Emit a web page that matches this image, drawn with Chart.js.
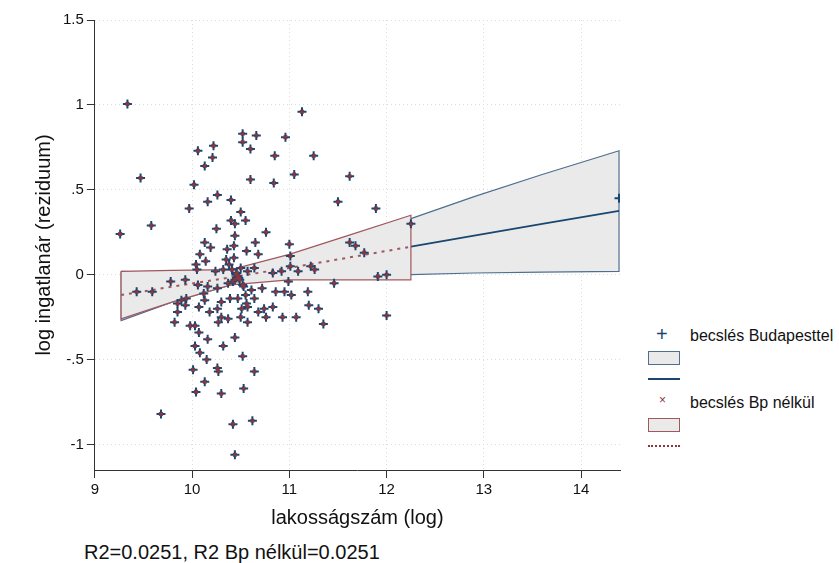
<!DOCTYPE html>
<html><head><meta charset="utf-8">
<script src="https://cdn.jsdelivr.net/npm/chart.js@4"></script>
<style>
body{margin:0;background:#fff;font-family:"Liberation Sans",Arial,sans-serif;}
#wrap{position:absolute;left:0;top:0;width:640px;height:540px;}
.lg{position:absolute;font-size:16px;color:#111;}
.note{position:absolute;left:84px;top:541px;font-size:20px;color:#111;}
</style></head><body>
<div id="wrap"><canvas id="c" width="640" height="540"></canvas></div>
<div class="lg" style="left:656px;top:323px;color:#1a476f;font-size:20px">+</div>
<div class="lg" style="left:690px;top:327px">becslés Budapesttel</div>
<div class="lg" style="left:648px;top:351px;width:30px;height:12px;background:#eaeaea;border:1.5px solid #4e6f90"></div>
<div class="lg" style="left:648px;top:378px;width:32px;height:2px;background:#1a476f"></div>
<div class="lg" style="left:659px;top:393px;color:#90353b;font-size:12px">×</div>
<div class="lg" style="left:690px;top:394px">becslés Bp nélkül</div>
<div class="lg" style="left:648px;top:418px;width:30px;height:12px;background:#eaeaea;border:1.5px solid #a0585d"></div>
<div class="lg" style="left:648px;top:445px;width:32px;height:0;border-top:2px dotted #90353b"></div>
<div class="note">R2=0.0251, R2 Bp nélkül=0.0251</div>
<script>
const xs = [9.335,11.13,10.52,10.52,10.66,10.96,10.22,10.06,10.60,10.21,10.85,11.25,10.13,9.47,11.05,11.62,10.60,10.84,10.02,10.26,10.16,10.40,11.50,9.97,11.89,10.50,10.40,10.44,10.55,9.58,9.26,10.25,10.44,10.76,12.25,10.13,10.19,10.65,11.00,10.36,10.43,10.56,10.68,10.08,11.62,11.68,11.77,11.01,10.35,10.43,10.14,10.05,10.04,10.24,10.32,10.47,10.57,10.64,10.83,10.92,11.09,11.01,11.22,11.26,11.91,12.00,9.78,9.93,9.43,9.59,10.06,10.16,10.26,10.37,10.44,10.52,10.61,10.72,10.86,10.95,10.99,11.46,11.02,11.19,10.12,9.89,9.85,9.94,10.13,10.30,10.39,10.47,10.56,10.64,9.93,10.07,10.18,10.26,10.51,10.57,10.68,10.74,10.83,11.20,11.30,9.85,10.30,10.37,10.50,10.57,10.76,10.93,11.07,11.35,12.00,9.82,10.27,9.98,10.03,10.07,10.16,10.44,10.03,10.32,10.08,10.15,10.52,10.01,10.26,10.27,10.64,10.13,10.04,10.30,10.53,9.68,10.42,10.62,10.44,10.45,10.48,10.50,10.42,10.46,10.53,10.38,10.55,10.49,10.41];
const ys = [1.006,0.96,0.83,0.78,0.82,0.81,0.76,0.73,0.74,0.69,0.70,0.70,0.64,0.57,0.59,0.58,0.56,0.54,0.53,0.47,0.43,0.44,0.43,0.39,0.39,0.37,0.32,0.30,0.32,0.29,0.24,0.27,0.23,0.25,0.30,0.19,0.16,0.19,0.18,0.15,0.17,0.14,0.12,0.12,0.19,0.17,0.13,0.11,0.09,0.10,0.08,0.03,0.06,0.02,0.03,-0.01,0.02,0.04,0.01,0.02,0.02,0.05,0.05,0.03,-0.01,0.00,-0.04,-0.03,-0.10,-0.10,-0.06,-0.07,-0.08,-0.05,-0.03,-0.06,-0.09,-0.08,-0.10,-0.10,-0.04,-0.05,-0.12,-0.10,-0.11,-0.15,-0.17,-0.14,-0.15,-0.16,-0.14,-0.14,-0.17,-0.14,-0.18,-0.19,-0.22,-0.20,-0.20,-0.19,-0.22,-0.20,-0.19,-0.18,-0.20,-0.22,-0.25,-0.26,-0.25,-0.28,-0.25,-0.25,-0.25,-0.29,-0.24,-0.28,-0.28,-0.30,-0.30,-0.34,-0.38,-0.37,-0.42,-0.42,-0.46,-0.50,-0.48,-0.56,-0.55,-0.57,-0.57,-0.63,-0.69,-0.70,-0.67,-0.82,-0.88,-0.86,-1.06,0.00,-0.02,0.04,-0.04,0.01,-0.07,0.06,-0.12,-0.03,0.03];
const budX = 14.39, budY = 0.45;

const bandX = [9.27, 9.8, 10.4, 11, 11.6, 12.25, 12.9, 13.6, 14.39];
const bpUpper = [0.02, 0.01, 0.03, 0.10, 0.20, 0.33, 0.46, 0.59, 0.73];
const bpLower = [-0.27, -0.16, -0.06, -0.02, -0.01, 0.00, 0.01, 0.015, 0.02];
const bpFit = [-0.13, -0.08, -0.02, 0.04, 0.10, 0.165, 0.23, 0.30, 0.376];
const noUpper = [0.02, 0.025, 0.03, 0.12, 0.23, 0.35];
const noLower = [-0.26, -0.16, -0.06, -0.03, -0.03, -0.03];
const noFit = [-0.12, -0.07, -0.015, 0.04, 0.10, 0.165];
const yTicks = [-1, -0.5, 0, 0.5, 1, 1.5];
const yLabels = ["-1", "-.5", "0", ".5", "1", "1.5"];

function poly(xv, up, lo) {
  const p = xv.map((x, i) => ({x: x, y: up[i]}));
  for (let i = xv.length - 1; i >= 0; i--) p.push({x: xv[i], y: lo[i]});
  p.push(p[0]);
  return p;
}
const pts = xs.map((x, i) => ({x: x, y: ys[i]}));
const noX = bandX.slice(0, noUpper.length);

new Chart(document.getElementById("c"), {
  type: "scatter",
  data: {datasets: [
    {order: 6, data: poly(bandX, bpUpper, bpLower), showLine: true, fill: "shape", backgroundColor: "#eaeaea",
     borderColor: "#4e6f90", borderWidth: 1.2, pointRadius: 0},
    {order: 5, data: bandX.map((x, i) => ({x: x, y: bpFit[i]})), showLine: true, borderColor: "#1a476f", borderWidth: 1.8, pointRadius: 0},
    {order: 4, data: poly(noX, noUpper, noLower), showLine: true, fill: "shape", backgroundColor: "#eaeaea",
     borderColor: "#a0585d", borderWidth: 1.2, pointRadius: 0},
    {order: 3, data: noX.map((x, i) => ({x: x, y: noFit[i]})), showLine: true, borderColor: "#a0585d", borderWidth: 2, borderDash: [3, 5], pointRadius: 0},
    {order: 2, data: pts.concat([{x: budX, y: budY}]), pointStyle: "cross", pointRadius: 4.5, borderColor: "#1a476f", borderWidth: 2},
    {order: 1, data: pts, pointStyle: "crossRot", pointRadius: 2.5, borderColor: "#90353b", borderWidth: 1.5}
  ]},
  options: {
    responsive: false, animation: false, events: [],
    layout: {padding: {left: 28, top: 20, right: 20, bottom: 6}},
    plugins: {legend: {display: false}, tooltip: {enabled: false}},
    scales: {
      x: {min: 9, max: 14.4, afterBuildTicks: a => { a.ticks = [9,10,11,12,13,14].map(v => ({value: v})); },
        grid: {color: "#dcdcdc", tickColor: "#333"},
        border: {display: true, color: "#333", dash: [1, 3]},
        ticks: {color: "#111", font: {size: 15, family: "Liberation Sans"}},
        title: {display: true, text: "lakosságszám (log)", color: "#111", font: {size: 20, family: "Liberation Sans"}}},
      y: {min: -1.15, max: 1.5, afterBuildTicks: a => { a.ticks = yTicks.map(v => ({value: v})); },
        grid: {color: "#dcdcdc", tickColor: "#333"},
        border: {display: true, color: "#333", dash: [1, 3]},
        ticks: {color: "#111", font: {size: 15, family: "Liberation Sans"},
          callback: v => yLabels[yTicks.indexOf(v)] ?? ""},
        title: {display: true, text: "log ingatlanár (reziduum)", color: "#111", font: {size: 20, family: "Liberation Sans"}}}
    }
  }
});
</script></body></html>
